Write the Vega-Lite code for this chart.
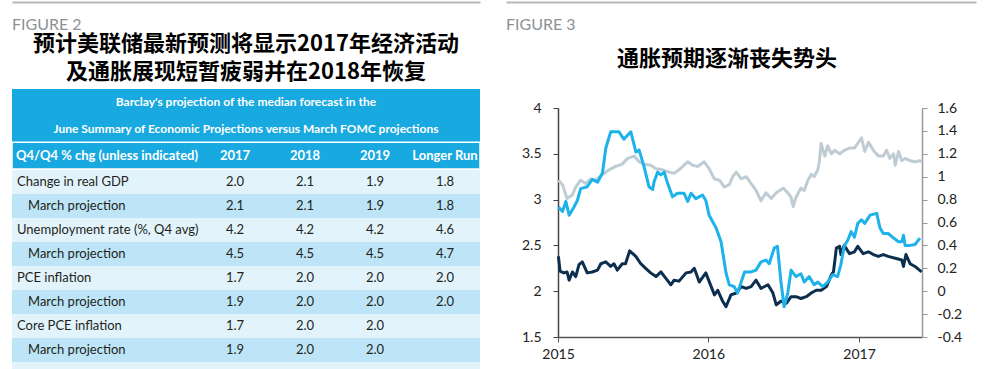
{
  "$schema": "https://vega.github.io/schema/vega-lite/v6.json",
  "background": "white",
  "padding": {"left": 11, "top": 2, "right": 0, "bottom": 0},
  "config": {"view": {"stroke": null}, "font": "Lato"},
  "datasets": {
    "table": [
      {"idx": 1, "label": "Change in real GDP", "kind": "main", "2017": 2.0, "2018": 2.1, "2019": 1.9, "Longer Run": 1.8},
      {"idx": 2, "label": "March projection", "kind": "sub", "2017": 2.1, "2018": 2.1, "2019": 1.9, "Longer Run": 1.8},
      {"idx": 3, "label": "Unemployment rate (%, Q4 avg)", "kind": "main", "2017": 4.2, "2018": 4.2, "2019": 4.2, "Longer Run": 4.6},
      {"idx": 4, "label": "March projection", "kind": "sub", "2017": 4.5, "2018": 4.5, "2019": 4.5, "Longer Run": 4.7},
      {"idx": 5, "label": "PCE inflation", "kind": "main", "2017": 1.7, "2018": 2.0, "2019": 2.0, "Longer Run": 2.0},
      {"idx": 6, "label": "March projection", "kind": "sub", "2017": 1.9, "2018": 2.0, "2019": 2.0, "Longer Run": 2.0},
      {"idx": 7, "label": "Core PCE inflation", "kind": "main", "2017": 1.7, "2018": 2.0, "2019": 2.0},
      {"idx": 8, "label": "March projection", "kind": "sub", "2017": 1.9, "2018": 2.0, "2019": 2.0}
    ],
    "lines": [
      {"date": "2015-01-02", "series": "s1", "value": 2.38},
      {"date": "2015-01-06", "series": "s1", "value": 2.22},
      {"date": "2015-01-15", "series": "s1", "value": 2.2},
      {"date": "2015-01-23", "series": "s1", "value": 2.21},
      {"date": "2015-01-28", "series": "s1", "value": 2.12},
      {"date": "2015-02-05", "series": "s1", "value": 2.21},
      {"date": "2015-02-13", "series": "s1", "value": 2.16},
      {"date": "2015-02-21", "series": "s1", "value": 2.29},
      {"date": "2015-03-01", "series": "s1", "value": 2.32},
      {"date": "2015-03-13", "series": "s1", "value": 2.2},
      {"date": "2015-03-25", "series": "s1", "value": 2.21},
      {"date": "2015-04-07", "series": "s1", "value": 2.23},
      {"date": "2015-04-15", "series": "s1", "value": 2.3},
      {"date": "2015-04-27", "series": "s1", "value": 2.32},
      {"date": "2015-05-09", "series": "s1", "value": 2.27},
      {"date": "2015-05-17", "series": "s1", "value": 2.3},
      {"date": "2015-05-25", "series": "s1", "value": 2.23},
      {"date": "2015-06-06", "series": "s1", "value": 2.3},
      {"date": "2015-06-14", "series": "s1", "value": 2.3},
      {"date": "2015-06-24", "series": "s1", "value": 2.44},
      {"date": "2015-07-09", "series": "s1", "value": 2.38},
      {"date": "2015-07-21", "series": "s1", "value": 2.3},
      {"date": "2015-08-02", "series": "s1", "value": 2.25},
      {"date": "2015-08-14", "series": "s1", "value": 2.2},
      {"date": "2015-08-27", "series": "s1", "value": 2.16},
      {"date": "2015-09-08", "series": "s1", "value": 2.21},
      {"date": "2015-09-20", "series": "s1", "value": 2.14},
      {"date": "2015-10-02", "series": "s1", "value": 2.07},
      {"date": "2015-10-10", "series": "s1", "value": 2.12},
      {"date": "2015-10-22", "series": "s1", "value": 2.11},
      {"date": "2015-11-08", "series": "s1", "value": 2.2},
      {"date": "2015-11-20", "series": "s1", "value": 2.21},
      {"date": "2015-11-28", "series": "s1", "value": 2.25},
      {"date": "2015-12-10", "series": "s1", "value": 2.1},
      {"date": "2015-12-26", "series": "s1", "value": 2.2},
      {"date": "2016-01-08", "series": "s1", "value": 2.05},
      {"date": "2016-01-16", "series": "s1", "value": 1.96},
      {"date": "2016-01-24", "series": "s1", "value": 2.01},
      {"date": "2016-02-05", "series": "s1", "value": 1.89},
      {"date": "2016-02-13", "series": "s1", "value": 1.83},
      {"date": "2016-02-25", "series": "s1", "value": 1.96},
      {"date": "2016-03-09", "series": "s1", "value": 1.98},
      {"date": "2016-03-21", "series": "s1", "value": 2.05},
      {"date": "2016-04-02", "series": "s1", "value": 2.03},
      {"date": "2016-04-14", "series": "s1", "value": 2.05},
      {"date": "2016-04-26", "series": "s1", "value": 2.12},
      {"date": "2016-05-08", "series": "s1", "value": 2.03},
      {"date": "2016-05-25", "series": "s1", "value": 2.07},
      {"date": "2016-06-06", "series": "s1", "value": 1.98},
      {"date": "2016-06-14", "series": "s1", "value": 1.85},
      {"date": "2016-06-25", "series": "s1", "value": 1.89},
      {"date": "2016-07-09", "series": "s1", "value": 1.87},
      {"date": "2016-07-20", "series": "s1", "value": 1.94},
      {"date": "2016-08-01", "series": "s1", "value": 1.94},
      {"date": "2016-08-13", "series": "s1", "value": 1.92},
      {"date": "2016-08-26", "series": "s1", "value": 1.94},
      {"date": "2016-09-07", "series": "s1", "value": 1.98},
      {"date": "2016-09-19", "series": "s1", "value": 2.01},
      {"date": "2016-10-01", "series": "s1", "value": 2.01},
      {"date": "2016-10-14", "series": "s1", "value": 2.05},
      {"date": "2016-10-26", "series": "s1", "value": 2.18},
      {"date": "2016-10-31", "series": "s1", "value": 2.21},
      {"date": "2016-11-07", "series": "s1", "value": 2.47},
      {"date": "2016-11-15", "series": "s1", "value": 2.49},
      {"date": "2016-11-18", "series": "s1", "value": 2.4},
      {"date": "2016-11-26", "series": "s1", "value": 2.5},
      {"date": "2016-12-09", "series": "s1", "value": 2.41},
      {"date": "2016-12-21", "series": "s1", "value": 2.43},
      {"date": "2016-12-29", "series": "s1", "value": 2.49},
      {"date": "2017-01-11", "series": "s1", "value": 2.41},
      {"date": "2017-01-24", "series": "s1", "value": 2.43},
      {"date": "2017-02-05", "series": "s1", "value": 2.4},
      {"date": "2017-02-17", "series": "s1", "value": 2.38},
      {"date": "2017-03-01", "series": "s1", "value": 2.4},
      {"date": "2017-03-13", "series": "s1", "value": 2.38},
      {"date": "2017-03-30", "series": "s1", "value": 2.36},
      {"date": "2017-04-15", "series": "s1", "value": 2.34},
      {"date": "2017-04-19", "series": "s1", "value": 2.27},
      {"date": "2017-04-25", "series": "s1", "value": 2.4},
      {"date": "2017-05-05", "series": "s1", "value": 2.3},
      {"date": "2017-05-17", "series": "s1", "value": 2.27},
      {"date": "2017-06-02", "series": "s1", "value": 2.21},
      {"date": "2015-01-02", "series": "s2", "value": 2.92},
      {"date": "2015-01-12", "series": "s2", "value": 2.87},
      {"date": "2015-01-20", "series": "s2", "value": 2.98},
      {"date": "2015-01-28", "series": "s2", "value": 2.83},
      {"date": "2015-02-09", "series": "s2", "value": 2.92},
      {"date": "2015-02-17", "series": "s2", "value": 2.99},
      {"date": "2015-02-25", "series": "s2", "value": 3.12},
      {"date": "2015-03-13", "series": "s2", "value": 3.14},
      {"date": "2015-03-25", "series": "s2", "value": 3.22},
      {"date": "2015-04-07", "series": "s2", "value": 3.19},
      {"date": "2015-04-19", "series": "s2", "value": 3.29},
      {"date": "2015-04-27", "series": "s2", "value": 3.56},
      {"date": "2015-05-09", "series": "s2", "value": 3.74},
      {"date": "2015-05-29", "series": "s2", "value": 3.74},
      {"date": "2015-06-10", "series": "s2", "value": 3.66},
      {"date": "2015-06-27", "series": "s2", "value": 3.74},
      {"date": "2015-07-09", "series": "s2", "value": 3.52},
      {"date": "2015-07-17", "series": "s2", "value": 3.54},
      {"date": "2015-07-29", "series": "s2", "value": 3.36},
      {"date": "2015-08-10", "series": "s2", "value": 3.14},
      {"date": "2015-08-19", "series": "s2", "value": 3.11},
      {"date": "2015-08-22", "series": "s2", "value": 3.19},
      {"date": "2015-08-31", "series": "s2", "value": 3.3},
      {"date": "2015-09-08", "series": "s2", "value": 3.27},
      {"date": "2015-09-16", "series": "s2", "value": 3.3},
      {"date": "2015-09-24", "series": "s2", "value": 3.18},
      {"date": "2015-10-06", "series": "s2", "value": 3.03},
      {"date": "2015-10-18", "series": "s2", "value": 3.07},
      {"date": "2015-11-03", "series": "s2", "value": 3.07},
      {"date": "2015-11-12", "series": "s2", "value": 2.98},
      {"date": "2015-11-20", "series": "s2", "value": 3.07},
      {"date": "2015-12-02", "series": "s2", "value": 3.01},
      {"date": "2015-12-18", "series": "s2", "value": 3.05},
      {"date": "2015-12-26", "series": "s2", "value": 2.99},
      {"date": "2016-01-03", "series": "s2", "value": 2.83},
      {"date": "2016-01-20", "series": "s2", "value": 2.69},
      {"date": "2016-02-01", "series": "s2", "value": 2.54},
      {"date": "2016-02-13", "series": "s2", "value": 2.2},
      {"date": "2016-02-21", "series": "s2", "value": 2.07},
      {"date": "2016-03-04", "series": "s2", "value": 2.05},
      {"date": "2016-03-12", "series": "s2", "value": 1.98},
      {"date": "2016-03-21", "series": "s2", "value": 2.1},
      {"date": "2016-03-29", "series": "s2", "value": 2.21},
      {"date": "2016-04-14", "series": "s2", "value": 2.21},
      {"date": "2016-04-26", "series": "s2", "value": 2.23},
      {"date": "2016-05-08", "series": "s2", "value": 2.32},
      {"date": "2016-05-20", "series": "s2", "value": 2.34},
      {"date": "2016-05-28", "series": "s2", "value": 2.3},
      {"date": "2016-06-09", "series": "s2", "value": 2.47},
      {"date": "2016-06-17", "series": "s2", "value": 2.49},
      {"date": "2016-06-25", "series": "s2", "value": 2.12},
      {"date": "2016-07-03", "series": "s2", "value": 1.83},
      {"date": "2016-07-12", "series": "s2", "value": 1.98},
      {"date": "2016-07-20", "series": "s2", "value": 2.23},
      {"date": "2016-08-01", "series": "s2", "value": 2.16},
      {"date": "2016-08-13", "series": "s2", "value": 2.19},
      {"date": "2016-08-21", "series": "s2", "value": 2.1},
      {"date": "2016-09-02", "series": "s2", "value": 2.16},
      {"date": "2016-09-14", "series": "s2", "value": 2.07},
      {"date": "2016-09-23", "series": "s2", "value": 2.1},
      {"date": "2016-10-05", "series": "s2", "value": 2.05},
      {"date": "2016-10-17", "series": "s2", "value": 2.1},
      {"date": "2016-10-29", "series": "s2", "value": 2.18},
      {"date": "2016-11-10", "series": "s2", "value": 2.16},
      {"date": "2016-11-18", "series": "s2", "value": 2.29},
      {"date": "2016-11-26", "series": "s2", "value": 2.49},
      {"date": "2016-12-05", "series": "s2", "value": 2.56},
      {"date": "2016-12-13", "series": "s2", "value": 2.65},
      {"date": "2016-12-21", "series": "s2", "value": 2.59},
      {"date": "2016-12-29", "series": "s2", "value": 2.74},
      {"date": "2017-01-07", "series": "s2", "value": 2.78},
      {"date": "2017-01-15", "series": "s2", "value": 2.74},
      {"date": "2017-01-28", "series": "s2", "value": 2.83},
      {"date": "2017-02-13", "series": "s2", "value": 2.85},
      {"date": "2017-02-21", "series": "s2", "value": 2.69},
      {"date": "2017-03-01", "series": "s2", "value": 2.63},
      {"date": "2017-03-13", "series": "s2", "value": 2.63},
      {"date": "2017-03-26", "series": "s2", "value": 2.58},
      {"date": "2017-04-07", "series": "s2", "value": 2.54},
      {"date": "2017-04-15", "series": "s2", "value": 2.54},
      {"date": "2017-04-19", "series": "s2", "value": 2.61},
      {"date": "2017-04-23", "series": "s2", "value": 2.5},
      {"date": "2017-05-05", "series": "s2", "value": 2.5},
      {"date": "2017-05-17", "series": "s2", "value": 2.51},
      {"date": "2017-05-29", "series": "s2", "value": 2.58},
      {"date": "2015-01-02", "series": "s3", "value": 0.97},
      {"date": "2015-01-12", "series": "s3", "value": 0.93},
      {"date": "2015-01-23", "series": "s3", "value": 0.81},
      {"date": "2015-02-05", "series": "s3", "value": 0.84},
      {"date": "2015-02-13", "series": "s3", "value": 0.91},
      {"date": "2015-02-25", "series": "s3", "value": 0.97},
      {"date": "2015-03-09", "series": "s3", "value": 0.94},
      {"date": "2015-03-21", "series": "s3", "value": 0.98},
      {"date": "2015-04-02", "series": "s3", "value": 0.97},
      {"date": "2015-04-19", "series": "s3", "value": 1.02},
      {"date": "2015-05-05", "series": "s3", "value": 1.06},
      {"date": "2015-05-21", "series": "s3", "value": 1.09},
      {"date": "2015-06-06", "series": "s3", "value": 1.11},
      {"date": "2015-06-19", "series": "s3", "value": 1.16},
      {"date": "2015-07-05", "series": "s3", "value": 1.18},
      {"date": "2015-07-17", "series": "s3", "value": 1.13},
      {"date": "2015-07-29", "series": "s3", "value": 1.11},
      {"date": "2015-08-14", "series": "s3", "value": 1.1},
      {"date": "2015-08-27", "series": "s3", "value": 1.07},
      {"date": "2015-09-12", "series": "s3", "value": 1.06},
      {"date": "2015-09-28", "series": "s3", "value": 1.04},
      {"date": "2015-10-10", "series": "s3", "value": 1.03},
      {"date": "2015-10-22", "series": "s3", "value": 1.06},
      {"date": "2015-10-31", "series": "s3", "value": 1.09},
      {"date": "2015-11-12", "series": "s3", "value": 1.13},
      {"date": "2015-11-24", "series": "s3", "value": 1.1},
      {"date": "2015-12-06", "series": "s3", "value": 1.09},
      {"date": "2015-12-22", "series": "s3", "value": 1.13},
      {"date": "2016-01-03", "series": "s3", "value": 1.07},
      {"date": "2016-01-16", "series": "s3", "value": 0.98},
      {"date": "2016-01-28", "series": "s3", "value": 0.97},
      {"date": "2016-02-09", "series": "s3", "value": 0.91},
      {"date": "2016-02-21", "series": "s3", "value": 0.93},
      {"date": "2016-02-29", "series": "s3", "value": 1.0},
      {"date": "2016-03-09", "series": "s3", "value": 1.04},
      {"date": "2016-03-21", "series": "s3", "value": 0.98},
      {"date": "2016-04-02", "series": "s3", "value": 1.0},
      {"date": "2016-04-14", "series": "s3", "value": 0.94},
      {"date": "2016-04-26", "series": "s3", "value": 0.88},
      {"date": "2016-05-08", "series": "s3", "value": 0.79},
      {"date": "2016-05-20", "series": "s3", "value": 0.86},
      {"date": "2016-06-02", "series": "s3", "value": 0.81},
      {"date": "2016-06-14", "series": "s3", "value": 0.86},
      {"date": "2016-07-01", "series": "s3", "value": 0.9},
      {"date": "2016-07-12", "series": "s3", "value": 0.86},
      {"date": "2016-07-20", "series": "s3", "value": 0.82},
      {"date": "2016-07-25", "series": "s3", "value": 0.74},
      {"date": "2016-08-01", "series": "s3", "value": 0.82},
      {"date": "2016-08-13", "series": "s3", "value": 0.9},
      {"date": "2016-08-21", "series": "s3", "value": 0.88},
      {"date": "2016-08-30", "series": "s3", "value": 0.97},
      {"date": "2016-09-07", "series": "s3", "value": 1.02},
      {"date": "2016-09-14", "series": "s3", "value": 1.0},
      {"date": "2016-09-23", "series": "s3", "value": 1.06},
      {"date": "2016-09-27", "series": "s3", "value": 1.14},
      {"date": "2016-10-01", "series": "s3", "value": 1.29},
      {"date": "2016-10-10", "series": "s3", "value": 1.18},
      {"date": "2016-10-17", "series": "s3", "value": 1.27},
      {"date": "2016-10-26", "series": "s3", "value": 1.2},
      {"date": "2016-11-03", "series": "s3", "value": 1.23},
      {"date": "2016-11-15", "series": "s3", "value": 1.2},
      {"date": "2016-11-26", "series": "s3", "value": 1.23},
      {"date": "2016-12-09", "series": "s3", "value": 1.25},
      {"date": "2016-12-21", "series": "s3", "value": 1.25},
      {"date": "2016-12-29", "series": "s3", "value": 1.29},
      {"date": "2017-01-07", "series": "s3", "value": 1.34},
      {"date": "2017-01-15", "series": "s3", "value": 1.22},
      {"date": "2017-01-24", "series": "s3", "value": 1.3},
      {"date": "2017-02-05", "series": "s3", "value": 1.23},
      {"date": "2017-02-17", "series": "s3", "value": 1.18},
      {"date": "2017-03-01", "series": "s3", "value": 1.18},
      {"date": "2017-03-09", "series": "s3", "value": 1.23},
      {"date": "2017-03-17", "series": "s3", "value": 1.16},
      {"date": "2017-03-26", "series": "s3", "value": 1.2},
      {"date": "2017-03-30", "series": "s3", "value": 1.1},
      {"date": "2017-04-07", "series": "s3", "value": 1.22},
      {"date": "2017-04-15", "series": "s3", "value": 1.14},
      {"date": "2017-04-23", "series": "s3", "value": 1.16},
      {"date": "2017-05-05", "series": "s3", "value": 1.14},
      {"date": "2017-05-17", "series": "s3", "value": 1.13},
      {"date": "2017-05-29", "series": "s3", "value": 1.14},
      {"date": "2017-06-02", "series": "s3", "value": 1.13}
    ]
  },
  "spacing": 25,
  "hconcat": [
    {
      "spacing": 0,
      "vconcat": [
        {
          "width": 468,
          "height": 28,
          "data": {"values": [{"label": "FIGURE 2"}]},
          "mark": {"type": "text", "align": "left", "baseline": "middle", "fontSize": 16, "color": "#8c9196", "font": "Lato"},
          "encoding": {
            "x": {"datum": 0, "type": "quantitative", "scale": {"domain": [0, 1]}, "axis": {"orient": "top", "domain": true, "domainColor": "#b8b8b8", "domainWidth": 2, "ticks": false, "labels": false, "grid": false, "title": null}},
            "y": {"datum": 0.18, "type": "quantitative", "scale": {"domain": [0, 1]}, "axis": null},
            "text": {"field": "label"}
          }
        },
        {
          "spacing": 0,
          "vconcat": [
            {
              "width": 468,
              "height": 80,
              "title": {"text": "预计美联储最新预测将显示2017年经济活动", "subtitle": "及通胀展现短暂疲弱并在2018年恢复", "font": "Noto Sans CJK SC", "fontSize": 22, "fontWeight": "bold", "color": "#000000", "subtitleFont": "Noto Sans CJK SC", "subtitleFontSize": 22, "subtitleFontWeight": "bold", "subtitleColor": "#000000", "subtitlePadding": 6, "anchor": "middle", "offset": 5},
              "view": {"fill": "#19A9E1", "stroke": null},
              "data": {"values": [
                {"idx": 1, "part": "title", "col": "label", "text": "Barclay's projection of the median forecast in the"},
                {"idx": 2, "part": "title", "col": "label", "text": "June Summary of Economic Projections versus March FOMC projections"},
                {"idx": 3, "part": "stub", "col": "label", "text": "Q4/Q4 % chg (unless indicated)"},
                {"idx": 3, "part": "col", "col": "2017", "text": "2017"},
                {"idx": 3, "part": "col", "col": "2018", "text": "2018"},
                {"idx": 3, "part": "col", "col": "2019", "text": "2019"},
                {"idx": 3, "part": "col", "col": "Longer Run", "text": "Longer Run"}
              ]},
              "encoding": {"y": {"field": "idx", "type": "ordinal", "axis": null, "scale": {"domain": [1, 2, 3], "paddingInner": 0, "paddingOuter": 0}}},
              "layer": [
                {"transform": [{"filter": "datum.part === 'stub'"}], "mark": {"type": "rect", "fill": "#19A9E1", "stroke": "white", "strokeWidth": 1.5}},
                {"transform": [{"filter": "datum.part === 'title'"}], "mark": {"type": "text", "color": "white", "fontWeight": "bold", "fontSize": 12, "baseline": "middle", "font": "Lato"}, "encoding": {"text": {"field": "text"}}},
                {"transform": [{"filter": "datum.part === 'stub'"}], "mark": {"type": "text", "align": "left", "dx": -9, "color": "white", "fontWeight": "bold", "fontSize": 13, "baseline": "middle", "font": "Lato"},
                  "encoding": {"x": {"field": "col", "type": "nominal", "scale": {"type": "point", "domain": ["label", "g1", "g2", "2017", "2018", "2019", "Longer Run"], "padding": 0.3429, "align": 0.2708}, "axis": null}, "text": {"field": "text"}}},
                {"transform": [{"filter": "datum.part === 'col'"}], "mark": {"type": "text", "align": "center", "color": "white", "fontWeight": "bold", "fontSize": 13, "baseline": "middle", "font": "Lato"},
                  "encoding": {"x": {"field": "col", "type": "nominal", "scale": {"type": "point", "domain": ["label", "g1", "g2", "2017", "2018", "2019", "Longer Run"], "padding": 0.3429, "align": 0.2708}, "axis": null}, "text": {"field": "text"}}}
              ]
            },
            {
              "width": 468,
              "height": 192,
              "data": {"name": "table"},
              "encoding": {"y": {"field": "idx", "type": "ordinal", "axis": null, "scale": {"paddingInner": 0, "paddingOuter": 0}}},
              "layer": [
                {"mark": {"type": "rect"}, "encoding": {"color": {"field": "kind", "type": "nominal", "scale": {"domain": ["main", "sub"], "range": ["#E2F3FB", "#BDE5F7"]}, "legend": null}}},
                {"transform": [{"filter": "datum.kind === 'main'"}], "mark": {"type": "text", "align": "left", "dx": -8, "baseline": "middle", "fontSize": 13, "color": "#231F20", "font": "Lato"},
                  "encoding": {"x": {"datum": "label", "type": "nominal", "scale": {"type": "point", "domain": ["label", "g1", "g2", "2017", "2018", "2019", "Longer Run"], "padding": 0.3429, "align": 0.2708}, "axis": null}, "text": {"field": "label"}}},
                {"transform": [{"filter": "datum.kind === 'sub'"}], "mark": {"type": "text", "align": "left", "dx": 3, "baseline": "middle", "fontSize": 13, "color": "#231F20", "font": "Lato"},
                  "encoding": {"x": {"datum": "label", "type": "nominal", "scale": {"type": "point", "domain": ["label", "g1", "g2", "2017", "2018", "2019", "Longer Run"], "padding": 0.3429, "align": 0.2708}, "axis": null}, "text": {"field": "label"}}},
                {"transform": [{"fold": ["2017", "2018", "2019", "Longer Run"], "as": ["col", "val"]}, {"filter": "isValid(datum.val)"}],
                  "mark": {"type": "text", "align": "center", "baseline": "middle", "fontSize": 13, "color": "#231F20", "font": "Lato"},
                  "encoding": {"x": {"field": "col", "type": "nominal", "scale": {"type": "point", "domain": ["label", "g1", "g2", "2017", "2018", "2019", "Longer Run"], "padding": 0.3429, "align": 0.2708}, "axis": null}, "text": {"field": "val", "type": "quantitative", "format": ".1f"}}}
              ]
            },
            {
              "width": 468,
              "height": 9,
              "data": {"values": [{"idx": 9}]},
              "mark": {"type": "rect", "color": "#E2F3FB"},
              "encoding": {}
            }
          ]
        }
      ]
    },
    {
      "spacing": 15,
      "vconcat": [
        {
          "width": 364,
          "height": 28,
          "data": {"values": [{"label": "FIGURE 3"}]},
          "mark": {"type": "text", "align": "left", "baseline": "middle", "fontSize": 16, "color": "#8c9196", "font": "Lato"},
          "encoding": {
            "x": {"datum": 0, "type": "quantitative", "scale": {"domain": [0, 1], "range": [-52, 418]}, "axis": {"orient": "top", "domain": true, "domainColor": "#b8b8b8", "domainWidth": 2, "ticks": false, "labels": false, "grid": false, "title": null}},
            "y": {"datum": 0.18, "type": "quantitative", "scale": {"domain": [0, 1]}, "axis": null},
            "text": {"field": "label"}
          }
        },
        {
          "width": 364,
          "height": 229,
          "title": {"text": "通胀预期逐渐丧失势头", "font": "Noto Sans CJK SC", "fontSize": 22, "fontWeight": "bold", "color": "#000000", "anchor": "middle", "offset": 30, "dx": -13},
          "data": {"name": "lines"},
          "encoding": {
            "x": {"field": "date", "type": "temporal", "title": null,
              "scale": {"type": "utc", "domain": [{"year": 2015, "month": 1, "date": 1, "utc": true}, {"year": 2017, "month": 6, "date": 3, "utc": true}]},
              "axis": {"values": [{"year": 2015, "month": 1, "date": 1, "utc": true}, {"year": 2016, "month": 1, "date": 1, "utc": true}, {"year": 2017, "month": 1, "date": 1, "utc": true}], "format": "%Y", "grid": false, "domainColor": "#555555", "domainWidth": 1.5, "tickColor": "#555555", "tickSize": 5, "labelFontSize": 14, "labelColor": "#222222", "labelFont": "Lato", "labelPadding": 5, "labelFlush": false}}
          },
          "layer": [
            {
              "transform": [{"filter": "datum.series === 's3'"}],
              "mark": {"type": "line", "strokeWidth": 3, "color": "#BFCCD4", "strokeJoin": "round"},
              "encoding": {"y": {"field": "value", "type": "quantitative", "title": null,
                "scale": {"domain": [-0.4, 1.6], "nice": false, "zero": false},
                "axis": {"orient": "right", "values": [-0.4, -0.2, 0, 0.2, 0.4, 0.6, 0.8, 1, 1.2, 1.4, 1.6], "labelExpr": "replace(format(datum.value, '~g'), '−', '-')", "grid": false, "domainColor": "#999999", "domainWidth": 1.5, "tickColor": "#999999", "tickSize": 5, "labelFontSize": 14, "labelColor": "#222222", "labelFont": "Lato", "labelPadding": 10}}}
            },
            {
              "encoding": {"y": {"field": "value", "type": "quantitative", "title": null,
                "scale": {"domain": [1.5, 4], "nice": false, "zero": false},
                "axis": {"orient": "left", "values": [1.5, 2, 2.5, 3, 3.5, 4], "format": "~g", "grid": false, "domainColor": "#444444", "domainWidth": 1.5, "tickColor": "#444444", "tickSize": 5, "labelFontSize": 14, "labelColor": "#222222", "labelFont": "Lato", "labelPadding": 12}}},
              "layer": [
                {"transform": [{"filter": "datum.series === 's1'"}], "mark": {"type": "line", "strokeWidth": 3, "color": "#0D2F4F", "strokeJoin": "round"}},
                {"transform": [{"filter": "datum.series === 's2'"}], "mark": {"type": "line", "strokeWidth": 3, "color": "#1DB2E9", "strokeJoin": "round"}}
              ]
            }
          ],
          "resolve": {"scale": {"y": "independent"}}
        }
      ]
    }
  ]
}
